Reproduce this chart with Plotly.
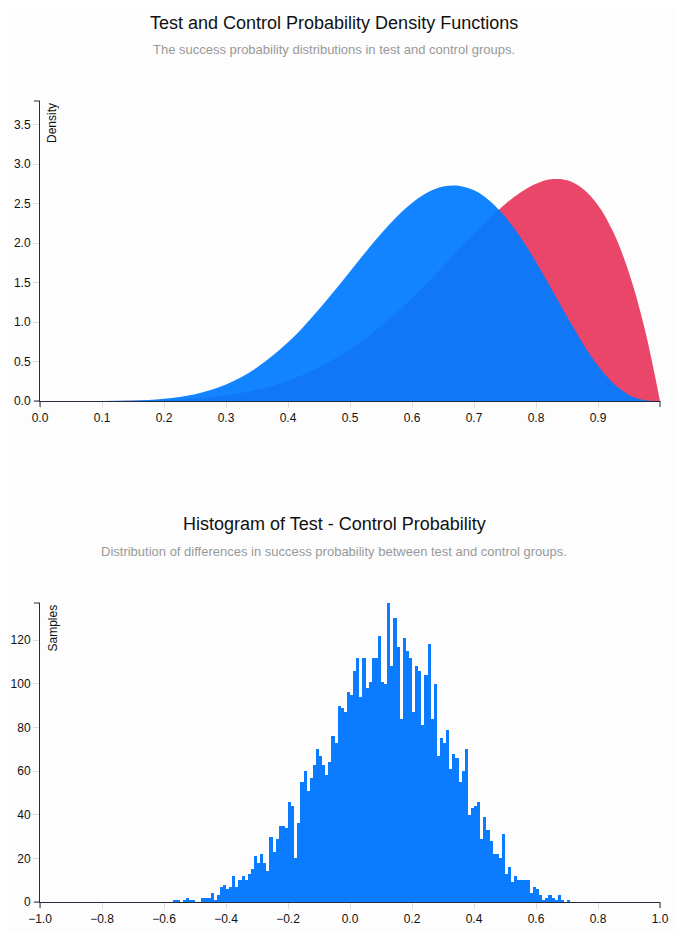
import plotly.graph_objects as go
import numpy as np

# 顏色
test_color = '#e9466a'
control_color = 'rgba(0,123,255,0.93)'
bar_color = '#0b7cff'
axis_color = '#252b3a'
tick_color = '#dddddd'

# 上圖: 密度曲線 (從圖上讀出的數值)
control_x = [0.0, 0.05, 0.1, 0.15, 0.2, 0.25, 0.3, 0.35, 0.4, 0.425, 0.45, 0.475, 0.5,
             0.525, 0.55, 0.575, 0.6, 0.625, 0.65, 0.675, 0.7, 0.725, 0.75, 0.775,
             0.8, 0.825, 0.85, 0.875, 0.9, 0.925, 0.95, 0.975, 1.0]
control_density = [0, 0, 0.001, 0.006, 0.028, 0.087, 0.210, 0.424, 0.743, 0.941, 1.161, 1.396, 1.641,
                   1.885, 2.119, 2.330, 2.508, 2.640, 2.716, 2.727, 2.668, 2.537, 2.336, 2.073,
                   1.762, 1.419, 1.069, 0.736, 0.446, 0.222, 0.077, 0.011, 0]

test_x = [0.0, 0.05, 0.1, 0.15, 0.2, 0.25, 0.3, 0.35, 0.4, 0.45, 0.5,
          0.55, 0.6, 0.65, 0.7, 0.75, 0.775, 0.8, 0.825, 0.85, 0.875,
          0.9, 0.925, 0.95, 0.975, 1.0]
test_density = [0, 0, 0, 0.003, 0.011, 0.031, 0.071, 0.143, 0.258, 0.426, 0.656,
                0.951, 1.306, 1.706, 2.118, 2.492, 2.642, 2.753, 2.809, 2.795, 2.693,
                2.480, 2.133, 1.625, 0.925, 0]

pdf_xticks = [0.0, 0.1, 0.2, 0.3, 0.4, 0.5, 0.6, 0.7, 0.8, 0.9]
pdf_yticks = [0.0, 0.5, 1.0, 1.5, 2.0, 2.5, 3.0, 3.5]

# 下圖: 直方圖 (bin 寬 0.01, 從 -0.57 開始)
bin_start = -0.57
bin_width = 0.01
counts = [
    1, 1, 0, 1, 2, 1, 1, 0, 0, 2,
    2, 2, 4, 1, 3, 7, 8, 6, 7, 12,
    7, 10, 12, 10, 13, 15, 21, 18, 22, 18,
    14, 30, 23, 29, 35, 35, 34, 46, 44, 20,
    36, 55, 60, 51, 57, 63, 70, 67, 63, 58,
    64, 76, 73, 90, 89, 87, 96, 95, 106, 112,
    94, 112, 98, 101, 112, 112, 122, 101, 100, 137,
    108, 130, 117, 84, 121, 115, 112, 87, 108, 106,
    81, 104, 118, 84, 100, 67, 75, 73, 79, 61,
    68, 66, 55, 60, 70, 40, 43, 44, 46, 29,
    39, 33, 28, 22, 22, 20, 31, 13, 16, 9,
    12, 10, 10, 10, 10, 4, 7, 6, 3, 1,
    2, 3, 2, 1, 3, 1, 0, 1,
]
hist_xticks = [-1.0, -0.8, -0.6, -0.4, -0.2, 0.0, 0.2, 0.4, 0.6, 0.8, 1.0]
hist_yticks = [0, 20, 40, 60, 80, 100, 120]

bin_centers = np.round(bin_start + bin_width * (np.arange(len(counts)) + 0.5), 4)

# 版面 (像素, 以視窗座標計; body 有 8px margin)
OFF = 8
W, H = 683 - 2 * OFF, 940 - 2 * OFF
L, R = 40, 660
top1, bot1 = 101, 401
top2, bot2 = 603, 902


def px(x):
    return (x - OFF) / W


def py_(y):
    return 1 - (y - OFF) / H


fig = go.Figure()
fig.add_trace(go.Scatter(x=test_x, y=test_density, mode='lines', fill='tozeroy',
                         line=dict(width=0, shape='spline', smoothing=1),
                         fillcolor=test_color, hoverinfo='skip', xaxis='x', yaxis='y'))
fig.add_trace(go.Scatter(x=control_x, y=control_density, mode='lines', fill='tozeroy',
                         line=dict(width=0, shape='spline', smoothing=1),
                         fillcolor=control_color, hoverinfo='skip', xaxis='x', yaxis='y'))
fig.add_trace(go.Bar(x=bin_centers, y=counts, width=bin_width,
                     marker=dict(color=bar_color, line=dict(width=0)),
                     xaxis='x2', yaxis='y2'))

axis_common = dict(showgrid=False, zeroline=False, showline=True, linecolor=axis_color,
                   linewidth=1, ticks='outside', ticklen=6, tickcolor=tick_color,
                   automargin=False, tickfont=dict(size=12, color='#111111'))

fig.update_layout(
    width=W, height=H,
    margin=dict(l=0, r=0, t=0, b=0),
    paper_bgcolor='#fdfdfd', plot_bgcolor='#fdfdfd',
    font=dict(family='Liberation Sans, Arial, sans-serif'),
    showlegend=False, bargap=0,
    xaxis=dict(domain=[px(L), px(R)], range=[0, 1], anchor='y',
               tickvals=pdf_xticks, tickformat='.1f', **axis_common),
    yaxis=dict(domain=[py_(bot1), py_(top1)], range=[0, 3.8], anchor='x',
               tickvals=pdf_yticks, tickformat='.1f', **axis_common),
    xaxis2=dict(domain=[px(L), px(R)], range=[-1, 1], anchor='y2',
                tickvals=hist_xticks, tickformat='.1f', **axis_common),
    yaxis2=dict(domain=[py_(bot2), py_(top2)], range=[0, 137], anchor='x2',
                tickvals=hist_yticks, **axis_common),
)

# 軸兩端的深色外刻度
shapes = []
for top, bot in [(top1, bot1), (top2, bot2)]:
    for y in (top, bot):
        shapes.append(dict(type='line', xref='paper', yref='paper',
                           x0=px(L - 6), x1=px(L), y0=py_(y), y1=py_(y),
                           line=dict(color=axis_color, width=1)))
    for x in (L, R):
        shapes.append(dict(type='line', xref='paper', yref='paper',
                           x0=px(x), x1=px(x), y0=py_(bot), y1=py_(bot + 6),
                           line=dict(color=axis_color, width=1)))
fig.update_layout(shapes=shapes)

# 標題與副標題
texts = [
    ('Test and Control Probability Density Functions', 23, 18, '#111111'),
    ('The success probability distributions in test and control groups.', 50, 13, '#999999'),
    ('Histogram of Test - Control Probability', 524, 18, '#111111'),
    ('Distribution of differences in success probability between test and control groups.', 551, 13, '#999999'),
]
for t, y, s, c in texts:
    fig.add_annotation(text=t, x=px(334), y=py_(y), xref='paper', yref='paper',
                       xanchor='center', yanchor='middle', showarrow=False,
                       font=dict(size=s, color=c))

for t, top in [('Density', top1), ('Samples', top2)]:
    fig.add_annotation(text=t, x=px(L + 3), y=py_(top), xref='paper', yref='paper',
                       xanchor='left', yanchor='top', textangle=-90, showarrow=False,
                       font=dict(size=12, color='#111111'))

fig.write_html("out.html")
